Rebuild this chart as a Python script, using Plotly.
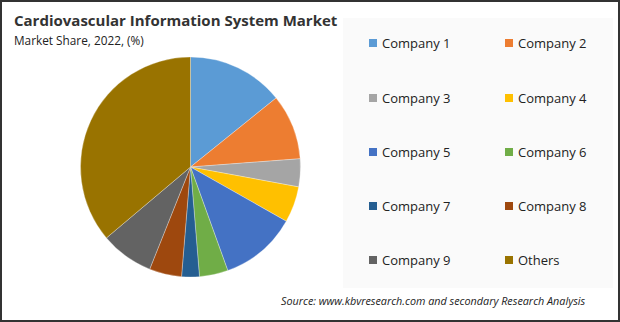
import plotly.graph_objects as go

labels = ["Company 1", "Company 2", "Company 3", "Company 4", "Company 5",
          "Company 6", "Company 7", "Company 8", "Company 9", "Others"]
shares = [14.2, 9.6, 4.1, 5.3, 11.3, 4.2, 2.6, 4.75, 7.8, 36.15]
colors = ["#5B9BD5", "#ED7D31", "#A5A5A5", "#FFC000", "#4472C4",
          "#70AD47", "#255E91", "#9E480E", "#636363", "#997300"]

W, H = 620, 322
cx, cy, r = 190.5, 167, 110

fig = go.Figure()
fig.add_trace(go.Pie(
    labels=labels, values=shares, sort=False, direction="clockwise", rotation=0,
    marker=dict(colors=colors, line=dict(color="rgba(255,255,255,0.5)", width=0.6)),
    textinfo="none", hoverinfo="label+percent", showlegend=False,
    domain=dict(x=[(cx - r) / W, (cx + r) / W], y=[1 - (cy + r) / H, 1 - (cy - r) / H]),
))

shapes = [
    # legend panel
    dict(type="rect", xref="paper", yref="paper", x0=343 / W, x1=613 / W,
         y0=1 - 288 / H, y1=1 - 18 / H, fillcolor="#FAFAFA", line=dict(width=0), layer="below"),
    # outer frame
    dict(type="rect", xref="paper", yref="paper", x0=1 / W, x1=1 - 1 / W,
         y0=1 / H, y1=1 - 1 / H, line=dict(color="#333333", width=2)),
]
annotations = [
    dict(text="<b>Cardiovascular Information System Market</b>", x=12 / W, y=1 - 8 / H,
         xref="paper", yref="paper", xanchor="left", yanchor="top", showarrow=False,
         font=dict(family="Open Sans", size=15, color="#333333")),
    dict(text="Market Share, 2022, (%)", x=12 / W, y=1 - 30 / H,
         xref="paper", yref="paper", xanchor="left", yanchor="top", showarrow=False,
         font=dict(family="Open Sans", size=11.8, color="#222222")),
    dict(text="<i>Source: www.kbvresearch.com and secondary Research Analysis</i>", x=588 / W, y=1 - 300 / H,
         xref="paper", yref="paper", xanchor="right", yanchor="middle", showarrow=False,
         font=dict(family="Open Sans", size=10.8, color="#222222")),
]

col_x = [369, 505]
row_y = [43, 98, 152, 206, 260]
for i, (lab, col) in enumerate(zip(labels, colors)):
    x = col_x[i % 2]
    y = row_y[i // 2]
    shapes.append(dict(type="rect", xref="paper", yref="paper",
                       x0=x / W, x1=(x + 8) / W, y0=1 - (y + 4) / H, y1=1 - (y - 4) / H,
                       fillcolor=col, line=dict(width=0)))
    annotations.append(dict(text=lab, x=(x + 11) / W, y=1 - y / H, xref="paper", yref="paper",
                            xanchor="left", yanchor="middle", showarrow=False,
                            font=dict(family="Open Sans", size=13, color="#222222")))

fig.update_layout(width=W, height=H, margin=dict(l=0, r=0, t=0, b=0),
                  paper_bgcolor="white", plot_bgcolor="white",
                  shapes=shapes, annotations=annotations)
fig.write_html("out.html")
